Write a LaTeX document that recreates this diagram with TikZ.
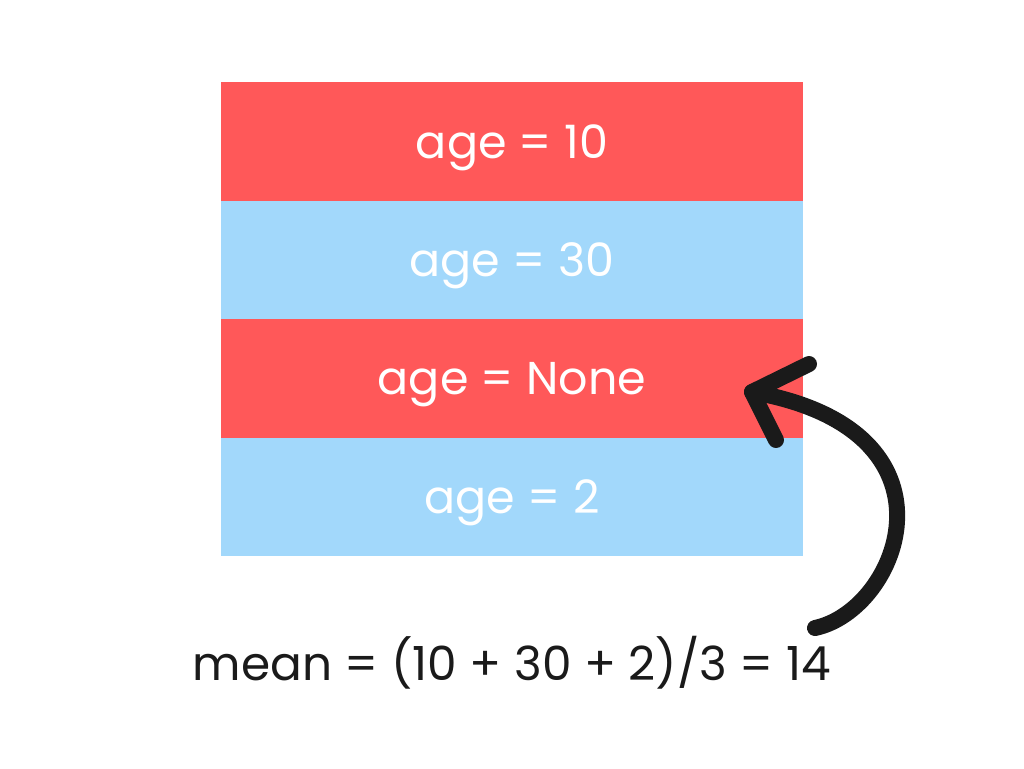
\documentclass[tikz,border=0pt]{standalone}
\usepackage{fontspec}
\setmainfont{Poppins}
\definecolor{rowred}{HTML}{FF5859}
\definecolor{rowblue}{HTML}{A2D8FB}
\definecolor{ink}{HTML}{1A1A1A}
\begin{document}
\begin{tikzpicture}[x=1pt,y=-1pt,
  row/.style={minimum width=582pt,minimum height=118.5pt,inner sep=0pt,outer sep=0pt,text=white,font=\fontsize{46}{52}\selectfont,anchor=north west,text depth=0pt}]
\useasboundingbox (0,0) rectangle (1024,768);
\fill[white] (0,0) rectangle (1024,768);
\node[row,fill=rowred] (r1) at (221,82) {age = 10};
\node[row,fill=rowblue] (r2) at (221,200.5) {age = 30};
\node[row,fill=rowred] (r3) at (221,319) {age = None};
\node[row,fill=rowblue] (r4) at (221,437.5) {age = 2};
\node[text=ink,font=\fontsize{47}{53}\selectfont,inner sep=0pt] (mean) at (512,663) {mean = (10 + 30 + 2)/3 = 14};
\coordinate (tail) at (815,628);
\coordinate (tip) at (752,392);
\draw[ink,line width=16pt,line cap=round] (tail) .. controls (900,610) and (970,430) .. (tip);
\draw[ink,line width=16pt,line cap=round,line join=round] (809,364) -- (tip) -- (776,440);
\end{tikzpicture}
\end{document}
